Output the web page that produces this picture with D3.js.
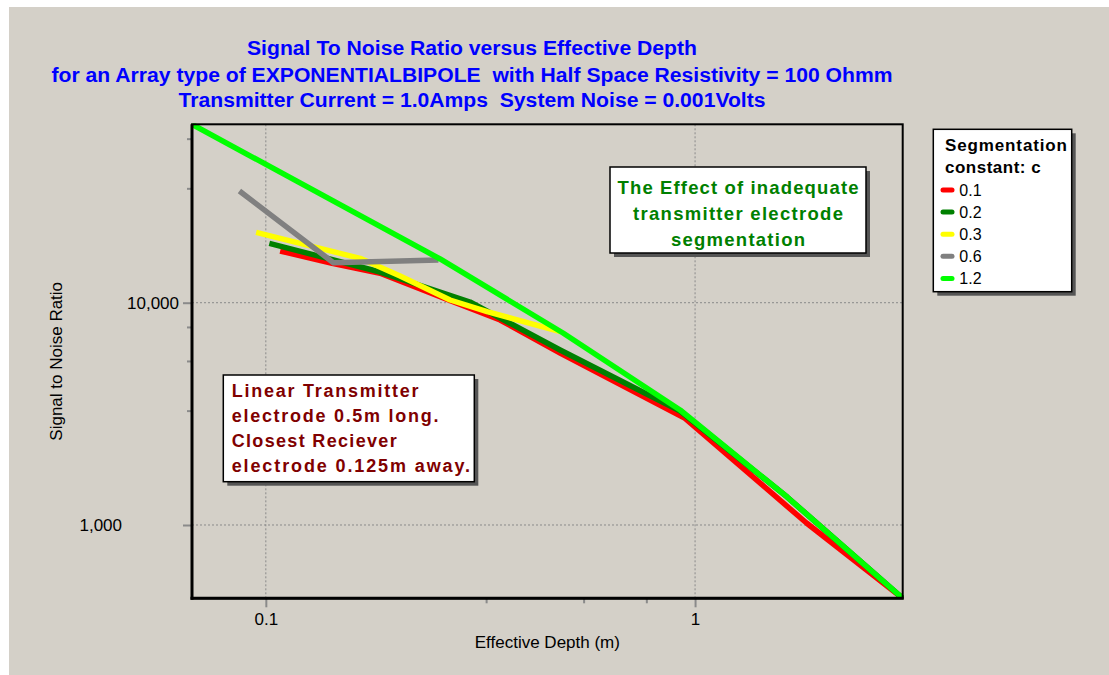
<!DOCTYPE html>
<html>
<head>
<meta charset="utf-8">
<script src="https://cdn.jsdelivr.net/npm/d3@7"></script>
<style>
  html, body { margin: 0; padding: 0; background: #ffffff; }
  svg { display: block; }
  text { font-family: "Liberation Sans", Arial, sans-serif; white-space: pre; }
</style>
</head>
<body>
<svg id="chart" width="1109" height="675"></svg>
<script>
// ---------------- DATA ----------------
const titleLines = [
  "Signal To Noise Ratio versus Effective Depth",
  "for an Array type of EXPONENTIALBIPOLE  with Half Space Resistivity = 100 Ohmm",
  "Transmitter Current = 1.0Amps  System Noise = 0.001Volts"
];
const xAxisTitle = "Effective Depth (m)";
const yAxisTitle = "Signal to Noise Ratio";
const legendTitle = ["Segmentation", "constant: c"];

const seriesNames = ["0.1", "0.2", "0.3", "0.6", "1.2"];
const seriesColors = ["#ff0000", "#008000", "#ffff00", "#808080", "#00ff00"];

const depth01 = [0.1080, 0.1427, 0.1846, 0.2547, 0.3514, 0.4849, 0.9478, 1.821, 3.046];
const snr01   = [17085, 15040, 13560, 10640, 8360, 5940, 3020, 1018, 468];

const depth02 = [0.1019, 0.1846, 0.2991, 0.4849, 0.9228, 1.638, 3.046];
const snr02   = [18500, 13741, 10073, 6126, 3257, 1337, 468];

const depth03 = [0.09493, 0.1658, 0.2055, 0.2687, 0.3278, 0.4849];
const snr03   = [20735, 15840, 13190, 10284, 9110, 7405];

const depth06 = [0.0868, 0.1437, 0.2523];
const snr06   = [31800, 15136, 15565];

const depth12 = [0.0673, 0.2547, 0.4925, 0.9228, 1.638, 3.046];
const snr12   = [63470, 15730, 7307, 3291, 1337, 468];

const xTickValues = [0.1, 1];
const xTickLabels = ["0.1", "1"];
const yTickValues = [1000, 10000];
const yTickLabels = ["1,000", "10,000"];
const xMinorTicks = [0.326, 0.55, 0.77];
const yMinorTicks = [3270, 5470, 7780, 32700, 54700];

const noteRight = ["The Effect of inadequate", "transmitter electrode", "segmentation"];
const noteLeft = ["Linear Transmitter", "electrode 0.5m long.", "Closest Reciever", "electrode 0.125m away."];

// ---------------- BUILD ----------------
const depths = [depth01, depth02, depth03, depth06, depth12];
const snrs = [snr01, snr02, snr03, snr06, snr12];
const series = seriesNames.map((name, i) => ({
  name, color: seriesColors[i],
  points: depths[i].map((d, j) => ({ x: d, y: snrs[i][j] }))
}));

const svg = d3.select("#chart");
const W = 1109, H = 675;
const plot = { left: 192, right: 902.7, top: 124.3, bottom: 598.3 };
const bg = "#d4d0c8";

svg.append("rect").attr("x", 0).attr("y", 0).attr("width", W).attr("height", H).attr("fill", "#ffffff");
svg.append("rect").attr("x", 9).attr("y", 7).attr("width", W - 9).attr("height", H - 7).attr("fill", bg);

const allPts = series.flatMap(s => s.points);
const x = d3.scaleLog().domain(d3.extent(allPts, p => p.x)).range([plot.left, plot.right]);
const y = d3.scaleLog().domain(d3.extent(allPts, p => p.y)).range([plot.bottom, plot.top]);

// Title
const titleG = svg.append("g");
const titleBaselines = [54.5, 81.5, 107];
const titleWidths = [450, 841, 587];
titleLines.forEach((t, i) => {
  titleG.append("text")
    .attr("x", 472).attr("y", titleBaselines[i])
    .attr("text-anchor", "middle")
    .attr("font-size", 19.5).attr("font-weight", "bold")
    .attr("fill", "#0000ff")
    .attr("xml:space", "preserve")
    .attr("textLength", titleWidths[i]).attr("lengthAdjust", "spacingAndGlyphs")
    .text(t);
});

// Gridlines (dotted)
const grid = svg.append("g");
xTickValues.forEach(v => {
  grid.append("line").attr("x1", x(v)).attr("x2", x(v)).attr("y1", plot.top).attr("y2", plot.bottom)
    .attr("stroke", "#8a8a8a").attr("stroke-width", 1).attr("stroke-dasharray", "2,2");
});
yTickValues.forEach(v => {
  grid.append("line").attr("x1", plot.left).attr("x2", plot.right).attr("y1", y(v)).attr("y2", y(v))
    .attr("stroke", "#8a8a8a").attr("stroke-width", 1).attr("stroke-dasharray", "2,2");
});

// Axes via d3 axis generators
const xAxis = d3.axisBottom(x).tickValues(xTickValues)
  .tickFormat((d, i) => xTickLabels[i]).tickSize(9).tickPadding(6);
const xAxisMinor = d3.axisBottom(x).tickValues(xMinorTicks).tickFormat("").tickSize(5);
const yAxis = d3.axisLeft(y).tickValues(yTickValues)
  .tickFormat((d, i) => yTickLabels[i]).tickSize(9).tickPadding(4);
const yAxisMinor = d3.axisLeft(y).tickValues(yMinorTicks).tickFormat("").tickSize(5);

function styleAxis(g) {
  g.select(".domain").remove();
  g.selectAll(".tick line").attr("stroke", "#8a8a8a").attr("stroke-width", 2);
  g.selectAll(".tick text").attr("fill", "#000").attr("font-size", 17)
    .attr("font-family", "'Liberation Sans', Arial, sans-serif");
}
svg.append("g").attr("transform", `translate(0,${plot.bottom})`).call(xAxisMinor).call(styleAxis);
const gx = svg.append("g").attr("transform", `translate(0,${plot.bottom})`).call(xAxis).call(styleAxis);
svg.append("g").attr("transform", `translate(${plot.left},0)`).call(yAxisMinor).call(styleAxis);
const gy = svg.append("g").attr("transform", `translate(${plot.left},0)`).call(yAxis).call(styleAxis);
// the 1,000 label sits further left in the original
gy.selectAll(".tick text").filter(d => d === 1000).attr("dx", -57);

// Axis titles
svg.append("text").attr("x", (plot.left + plot.right) / 2).attr("y", 648)
  .attr("text-anchor", "middle").attr("font-size", 17).attr("fill", "#000").text(xAxisTitle);
svg.append("text").attr("transform", `translate(62,${(plot.top + plot.bottom) / 2}) rotate(-90)`)
  .attr("text-anchor", "middle").attr("font-size", 17).attr("fill", "#000").text(yAxisTitle);

// Lines
svg.append("clipPath").attr("id", "clip").append("rect")
  .attr("x", plot.left).attr("y", plot.top - 1).attr("width", plot.right - plot.left + 1).attr("height", plot.bottom - plot.top + 1);
const line = d3.line().x(p => x(p.x)).y(p => y(p.y));
const linesG = svg.append("g").attr("clip-path", "url(#clip)");
series.forEach(s => {
  linesG.append("path").attr("d", line(s.points))
    .attr("fill", "none").attr("stroke", s.color).attr("stroke-width", 5.5)
    .attr("stroke-linejoin", "round").attr("stroke-linecap", "butt");
});

// Plot frame
svg.append("rect").attr("x", plot.left).attr("y", plot.top)
  .attr("width", plot.right - plot.left).attr("height", plot.bottom - plot.top)
  .attr("fill", "none").attr("stroke", "#000").attr("stroke-width", 2);
svg.append("line").attr("x1", plot.left).attr("x2", plot.left).attr("y1", plot.top).attr("y2", plot.bottom + 1.5)
  .attr("stroke", "#000").attr("stroke-width", 3);
svg.append("line").attr("x1", plot.left - 1.5).attr("x2", plot.right + 1).attr("y1", plot.bottom).attr("y2", plot.bottom)
  .attr("stroke", "#000").attr("stroke-width", 3);

// Boxed note helper
function box(x0, y0, w, h) {
  svg.append("rect").attr("x", x0 + 4).attr("y", y0 + 4).attr("width", w).attr("height", h).attr("fill", "#555555");
  svg.append("rect").attr("x", x0).attr("y", y0).attr("width", w).attr("height", h)
    .attr("fill", "#ffffff").attr("stroke", "#000").attr("stroke-width", 1.5);
}

// Right note
box(610, 167, 256, 86);
const nrBase = [194, 220, 246];
const nrW = [241, 210, 134];
noteRight.forEach((t, i) => {
  svg.append("text").attr("x", 738).attr("y", nrBase[i]).attr("text-anchor", "middle")
    .attr("font-size", 18.5).attr("font-weight", "bold").attr("fill", "#008000")
    .attr("textLength", nrW[i]).attr("lengthAdjust", "spacing").text(t);
});

// Left note
box(223.3, 375, 251, 106.7);
const nlBase = [396.7, 422, 447, 472];
const nlW = [186.7, 206.7, 165, 238.3];
noteLeft.forEach((t, i) => {
  svg.append("text").attr("x", 231.7).attr("y", nlBase[i])
    .attr("font-size", 18).attr("font-weight", "bold").attr("fill", "#800000")
    .attr("textLength", nlW[i]).attr("lengthAdjust", "spacing").text(t);
});

// Legend
box(933.3, 129.3, 138.4, 162.4);
const ltBase = [150.7, 172.7];
const ltW = [122, 95.7];
legendTitle.forEach((t, i) => {
  svg.append("text").attr("x", 945).attr("y", ltBase[i])
    .attr("font-size", 17).attr("font-weight", "bold").attr("fill", "#000")
    .attr("textLength", ltW[i]).attr("lengthAdjust", "spacing").text(t);
});
series.forEach((s, i) => {
  const cy = 190 + i * 22.1;
  svg.append("line").attr("x1", 943).attr("x2", 952).attr("y1", cy).attr("y2", cy)
    .attr("stroke", s.color).attr("stroke-width", 5).attr("stroke-linecap", "round");
  svg.append("text").attr("x", 959.3).attr("y", cy + 5.5)
    .attr("font-size", 16).attr("fill", "#000").text(s.name);
});
</script>
</body>
</html>
